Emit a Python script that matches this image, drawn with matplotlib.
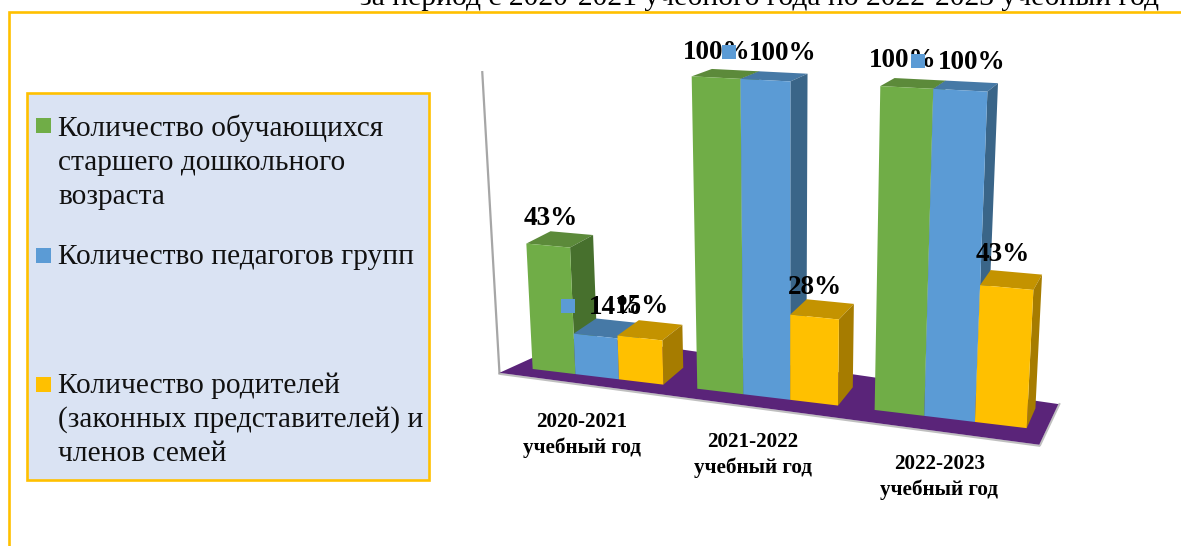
import numpy as np
import matplotlib
matplotlib.use("Agg")
import matplotlib.pyplot as plt
from matplotlib.patches import Polygon, Rectangle

plt.rcParams['font.family'] = ['Liberation Serif', 'DejaVu Serif']

title = "за период с 2020-2021 учебного года по 2022-2023 учебный год"
categories = ["2020-2021\nучебный год", "2021-2022\nучебный год", "2022-2023\nучебный год"]
series_names = ["Количество обучающихся\nстаршего дошкольного\nвозраста",
                "Количество педагогов групп",
                "Количество родителей\n(законных представителей) и\nчленов семей"]
children = [43, 100, 100]
teachers = [14, 100, 100]
parents = [15, 28, 43]
series = [children, teachers, parents]

front = ["#70AD47", "#5B9BD5", "#FFC000"]
top = ["#5C8A3A", "#4679A6", "#C49300"]
side = ["#47702D", "#3A6588", "#A67C00"]
FLOOR = "#5A2479"
BORDER = "#FFC000"
GROUP_PITCH = 3.75

# camera calibration of the 3D scene: (x, depth, percent) -> pixel
scene = np.array([
    (0, 0, 0), (3, 0, 0), (3.75, 0, 0), (6.75, 0, 0), (7.5, 0, 0), (10.5, 0, 0),
    (3.75, 0, 100), (5.75, 0, 100), (7.5, 0, 100), (9.5, 0, 100),
    (5.75, 1, 100), (9.5, 1, 100), (3, 1, 0), (6.75, 1, 0), (10.5, 1, 0),
    (0, 0, 43), (1, 1, 43), (10.5, 1, 43),
    (3.75, 1, 100), (7.5, 1, 100), (0, 1, 43), (3, 1, 15), (6.75, 1, 28)], float)
pixels = np.array([
    (533.3, 367.7), (663.3, 384), (696.7, 388.7), (837.7, 406.7), (874.3, 411.7), (1026.7, 430.7),
    (692.3, 75.7), (790, 81), (880, 85.7), (986.7, 91.7),
    (807.3, 74), (998, 84), (682.3, 370), (852.7, 390), (1036.7, 397.3),
    (527.7, 241.7), (592.7, 235), (1042.7, 277.3),
    (711.7, 68.3), (895, 78.3), (550.7, 230.7), (681.7, 326), (854, 305.7)], float)
rows, rhs = [], []
for (x, y, z), (u, v) in zip(scene, pixels):
    rows.append([x, y, z, 1, 0, 0, 0, 0, -u * x, -u * y, -u * z])
    rhs.append(u)
    rows.append([0, 0, 0, 0, x, y, z, 1, -v * x, -v * y, -v * z])
    rhs.append(v)
P = np.append(np.linalg.lstsq(np.array(rows), np.array(rhs), rcond=None)[0], 1).reshape(3, 4)


def project(x, y, z):
    h = P @ np.array([x, y, z, 1.0])
    return h[0] / h[2], h[1] / h[2]


fig = plt.figure(figsize=(11.81, 5.46), dpi=100)
ax = fig.add_axes([0, 0, 1, 1])
ax.set_xlim(0, 1181)
ax.set_ylim(546, 0)
ax.axis("off")

# page frame and title
ax.plot([8.5, 8.5, 1181], [546, 12, 12], color=BORDER, lw=1.9, solid_joinstyle="miter")
ax.text(759, 5, title, fontsize=21.3, ha="center", va="baseline", color="black", clip_on=False)

# legend panel
ax.add_patch(Rectangle((27, 93), 402, 387, fc="#DAE3F3", ec=BORDER, lw=1.9))
key_y = [125, 255, 384]
text_y = [136, 264, 393]
for color, name, ky, ty in zip(front, series_names, key_y, text_y):
    ax.add_patch(Rectangle((36, ky - 7.5), 15, 15, fc=color, ec="none"))
    for k, line in enumerate(name.split("\n")):
        ax.text(58, ty + 34 * k, line, fontsize=21.2, ha="left", va="baseline", color="#111111")

# floor and wall of the 3D box
floor_corners = [(-0.55, -0.4), (10.85, -0.68), (10.9, 1.35), (0.0, 2.2)]
floor = [project(x, y, 0) for x, y in floor_corners]
ax.add_patch(Polygon(floor, closed=True, fc=FLOOR, ec="none", zorder=1))
a, b, c = floor[0], floor[1], floor[2]
ax.plot([a[0], b[0]], [a[1] + 1, b[1] + 1], color="#BFBFBF", lw=1.5, zorder=0.9)
ax.plot([b[0] + 1, c[0] + 1], [b[1], c[1]], color="#BFBFBF", lw=1.5, zorder=0.9)
w = project(floor_corners[0][0], floor_corners[0][1], 99)
ax.plot([w[0], a[0]], [w[1], a[1]], color="#A6A6A6", lw=1.6, zorder=0.9)

# bars
z = 2
for g in range(len(categories)):
    for s, vals in enumerate(series):
        x0 = g * GROUP_PITCH + s
        x1 = x0 + 1
        v = vals[g]
        ax.add_patch(Polygon([project(x0, 0, v), project(x1, 0, v), project(x1, 1, v), project(x0, 1, v)],
                             fc=top[s], ec="none", zorder=z))
        ax.add_patch(Polygon([project(x1, 0, 0), project(x1, 1, 0), project(x1, 1, v), project(x1, 0, v)],
                             fc=side[s], ec="none", zorder=z))
        ax.add_patch(Polygon([project(x0, 0, 0), project(x1, 0, 0), project(x1, 0, v), project(x0, 0, v)],
                             fc=front[s], ec="none", zorder=z))
        z += 1

# data labels: pixel nudge from the top of each bar, per series and group
label_offset = [[(3, -27), (1, -25), (-4, -27)],
                [(20, -29), (17, -27), (12, -28)],
                [(2, -31), (0, -30), (-4, -33)]]
renderer = fig.canvas.get_renderer()
for g in range(len(categories)):
    for s, vals in enumerate(series):
        v = vals[g]
        px, py = project(g * GROUP_PITCH + s + 0.5, 0, v)
        dx, dy = label_offset[s][g]
        lx, ly = px + dx, py + dy
        t = ax.text(lx, ly, f"{v}%", fontsize=19.5, fontweight="bold", ha="center", va="center",
                    color="black", zorder=30)
        if s == 1:
            ext = t.get_window_extent(renderer)
            ax.add_patch(Rectangle((ext.x0 - 27, ly - 8), 14, 14, fc="#5B9BD5", ec="none", zorder=31))

# category labels
cat_dx = [-15, -14, -10]
for g, cat in enumerate(categories):
    px, py = project(g * GROUP_PITCH + 1.5, 0, 0)
    for k, line in enumerate(cat.split("\n")):
        ax.text(px + cat_dx[g], py + 45 + 26 * k, line, fontsize=15.2, fontweight="bold", ha="center", va="center",
                color="black", zorder=30)

fig.savefig("out.png", dpi=100)
